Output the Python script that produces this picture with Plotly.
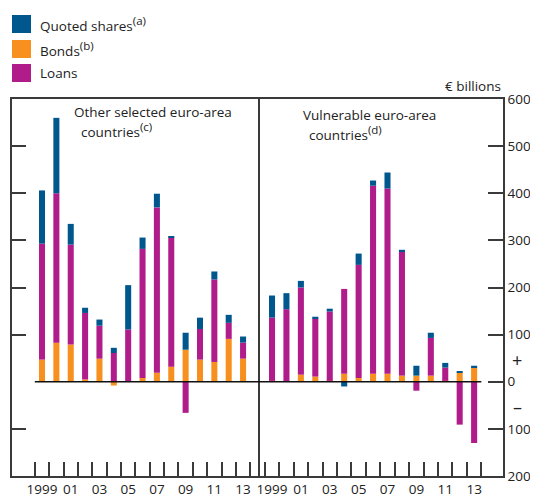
"""Euro-area funding flows: quoted shares, bonds and loans, two panels."""

import plotly.graph_objects as go

years = list(range(15))
year_labels = ["1999", "01", "03", "05", "07", "09", "11", "13"]

# Other selected euro-area countries (€ billions)
other_bonds = [47, 83, 79, 5, 49, -8, 1, 8, 19, 32, 68, 47, 42, 91, 49]
other_loans = [246, 317, 212, 141, 70, 61, 110, 274, 351, 274, -66, 65, 175, 34, 34]
other_shares = [113, 160, 44, 11, 13, 11, 94, 24, 29, 2, 36, 24, 17, 17, 13]

# Vulnerable euro-area countries (€ billions)
vuln_bonds = [2, 1, 15, 11, 2, 17, 8, 17, 17, 13, 13, 13, 2, 19, 30]
vuln_loans = [134, 153, 185, 123, 147, 180, 240, 399, 393, 263, -19, 80, 28, -91, -130]
vuln_shares = [47, 34, 14, 4, 6, -10, 24, 11, 34, 4, 21, 11, 10, 2, 4]

y_ticks = [-200, -100, 0, 100, 200, 300, 400, 500, 600]
y_labels = ["200", "100", "0", "100", "200", "300", "400", "500", "600"]

BLUE = "#00578E"
ORANGE = "#F7901E"
MAGENTA = "#B01C8A"
LINE = "#3a3a3a"
FONT = "Open Sans"

# the page body has an 8px margin, so the figure is sized to fit inside the window
OFF = 8
W, H = 538 - OFF, 496 - OFF
PLOT_L, PLOT_R, PLOT_T, PLOT_B = 12, 503, 99, 476  # page pixels
L, R, T, B = PLOT_L - OFF, 538 - PLOT_R, PLOT_T - OFF, 496 - PLOT_B


def px_x(px):
    return (px - PLOT_L) / (PLOT_R - PLOT_L)


def px_y(py):
    return (PLOT_B - py) / (PLOT_B - PLOT_T)


def sup(s):
    return "<sup><span style='font-size:11.5px'>" + s + "</span></sup>"


fig = go.Figure()

panels = [
    ("x", "y", other_bonds, other_loans, other_shares),
    ("x2", "y2", vuln_bonds, vuln_loans, vuln_shares),
]
for xa, ya, bonds, loans, shares in panels:
    for vals, col in [(bonds, ORANGE), (loans, MAGENTA), (shares, BLUE)]:
        fig.add_trace(go.Bar(x=years, y=vals, marker=dict(color=col, line=dict(width=0)),
                             xaxis=xa, yaxis=ya, showlegend=False))

split = px_x(258)
minor = dict(tickvals=[i - 0.5 for i in range(16)], ticks="inside", ticklen=14,
             tickwidth=1.5, tickcolor=LINE)
xcommon = dict(tickvals=list(range(0, 15, 2)), ticktext=year_labels, ticks="",
               showline=True, linecolor=LINE, linewidth=1.5, mirror=True,
               showgrid=False, zeroline=False, minor=minor, automargin=False,
               tickfont=dict(family=FONT, size=13.5, color="#222"))
ycommon = dict(range=[-200, 600], showline=True, linecolor=LINE, linewidth=1.5,
               showgrid=False, zeroline=False, ticks="inside", automargin=False,
               tickwidth=1.5, tickcolor=LINE)

fig.update_layout(
    width=W, height=H,
    margin=dict(l=L, r=R, t=T, b=B),
    paper_bgcolor="white", plot_bgcolor="white",
    barmode="relative", bargap=0.58,
    font=dict(family=FONT, size=13.5, color="#222"),
    xaxis=dict(domain=[0, split], range=[-2.09, 15.04], anchor="y", **xcommon),
    xaxis2=dict(domain=[split, 1], range=[-0.97, 16.0], anchor="y2", **xcommon),
    yaxis=dict(anchor="x", ticklen=14, tickvals=[-100, 100, 200, 300, 400, 500],
               showticklabels=False, mirror=True, **ycommon),
    yaxis2=dict(anchor="x2", side="right", ticklen=15, tickvals=y_ticks, ticktext=y_labels,
                mirror=False, tickfont=dict(family=FONT, size=13.5, color="#222"), **ycommon),
)

# zero lines
fig.add_shape(type="line", xref="x", yref="y", x0=-0.5, x1=15.04, y0=0, y1=0,
              line=dict(color="#111", width=1.5))
fig.add_shape(type="line", xref="x2", yref="y2", x0=-0.97, x1=14.5, y0=0, y1=0,
              line=dict(color="#111", width=1.5))

# legend
legend_items = [("Quoted shares" + sup("(a)"), BLUE, 15, 33),
                ("Bonds" + sup("(b)"), ORANGE, 40, 58),
                ("Loans", MAGENTA, 64, 82)]
for label, col, top, bot in legend_items:
    fig.add_shape(type="rect", xref="paper", yref="paper",
                  x0=px_x(12), x1=px_x(31), y0=px_y(bot), y1=px_y(top),
                  fillcolor=col, line=dict(width=0))
    fig.add_annotation(text=label, xref="paper", yref="paper", x=px_x(38),
                       y=px_y((top + bot) / 2), xanchor="left", yanchor="middle",
                       showarrow=False, font=dict(size=13.5))

texts = [
    ("€ billions", 503, 86, "right", 13.5),
    ("Other selected euro-area", 72, 112, "left", 13.5),
    ("countries" + sup("(c)"), 79, 130, "left", 13.5),
    ("Vulnerable euro-area", 301, 115, "left", 13.5),
    ("countries" + sup("(d)"), 307, 133, "left", 13.5),
    ("+", 517, 360, "center", 18),
    ("–", 517, 407, "center", 18),
]
for txt, x, y, anchor, size in texts:
    fig.add_annotation(text=txt, xref="paper", yref="paper", x=px_x(x), y=px_y(y),
                       xanchor=anchor, yanchor="middle", showarrow=False,
                       font=dict(size=size))

fig.write_html("out.html")
